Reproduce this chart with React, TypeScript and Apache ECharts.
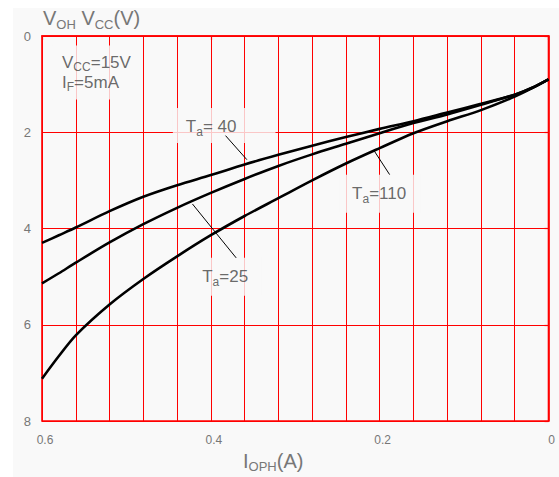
import React, { useEffect, useRef } from 'react';
import * as echarts from 'echarts';

// Output current I_OPH (A)
const current = [0.6, 0.58, 0.56, 0.52, 0.48, 0.44, 0.4, 0.36, 0.32, 0.28, 0.24, 0.2, 0.16, 0.12, 0.08, 0.04, 0.02, 0];
// V_OH - V_CC (V) per ambient temperature
const vohTa40 = [4.30, 4.14, 3.98, 3.64, 3.34, 3.10, 2.89, 2.67, 2.47, 2.28, 2.10, 1.93, 1.77, 1.59, 1.41, 1.22, 1.08, 0.90];
const vohTa25 = [5.14, 4.93, 4.71, 4.29, 3.91, 3.57, 3.26, 2.97, 2.70, 2.46, 2.24, 2.02, 1.81, 1.63, 1.43, 1.22, 1.08, 0.90];
const vohTa110 = [7.12, 6.65, 6.22, 5.58, 5.05, 4.58, 4.14, 3.74, 3.37, 3.00, 2.65, 2.33, 2.02, 1.77, 1.54, 1.26, 1.09, 0.90];

// Annotations
const tempLabels = ['T{a|a}= 40', 'T{a|a}=25', 'T{a|a}=110'];
const tempLabelAnchors = [[0.3842, 1.858], [0.383, 5.0], [0.2, 3.28]];
const tempLabelPads = [[8, 39, 5, 13], [8, 13, 8, 13], [8, 14, 8, 13]];
const leaders = [
  [[0.3826, 2.07], [0.3573, 2.57]],
  [[0.4218, 3.49], [0.37, 4.61]],
  [[0.2071, 2.37], [0.1882, 2.88]],
];
const conditionText = 'V{s|CC}=15V\nI{s|F}=5mA';
const conditionAnchor = [0.5881, 0.758];

const FONT = "'Liberation Sans', Arial, sans-serif";
const RED = '#ff0000';
const BG = '#f9f9f9';

export default function App() {
  const ref = useRef<HTMLDivElement>(null);
  useEffect(() => {
    if (!ref.current) return;
    const chart = echarts.init(ref.current, undefined, { renderer: 'svg' });
    const curve = (name: string, vals: number[]) => ({
      name,
      type: 'line',
      data: current.map((c, i) => [c, vals[i]]),
      symbol: 'none',
      smooth: 0.3,
      lineStyle: { color: '#000', width: 2.6 },
      z: 3,
      silent: true,
    });
    chart.setOption({
      animation: false,
      backgroundColor: BG,
      grid: {
        left: 29, right: 10.5, top: 28, bottom: 56,
        show: true, borderColor: RED, borderWidth: 1.6, backgroundColor: 'transparent',
      },
      xAxis: {
        type: 'value', inverse: true, min: 0, max: 0.6, interval: 0.2,
        axisLine: { show: true, lineStyle: { color: RED, width: 1.6 } },
        axisTick: { show: true, length: 4, lineStyle: { color: RED, width: 1.2 } },
        axisLabel: {
          color: '#777', fontFamily: FONT, fontSize: 12, margin: 13, padding: [0, 0, 0, 6],
          formatter: (v: number) => (Math.abs(v) < 1e-9 ? '0' : v.toFixed(1)),
        },
        splitLine: { show: true, lineStyle: { color: RED, width: 1 } },
        minorTick: { show: false, splitNumber: 5 },
        minorSplitLine: { show: true, lineStyle: { color: RED, width: 1 } },
      },
      yAxis: {
        type: 'value', inverse: true, min: 0, max: 8, interval: 2,
        axisLine: { show: true, lineStyle: { color: RED, width: 1.6 } },
        axisTick: { show: true, length: 4, lineStyle: { color: RED, width: 1.2 } },
        axisLabel: { color: '#777', fontFamily: FONT, fontSize: 13, margin: 11 },
        splitLine: { show: true, lineStyle: { color: RED, width: 1 } },
      },
      graphic: [
        {
          type: 'text', x: 30, y: 10, silent: true,
          style: {
            text: '{v|V}{s|OH}{v| V}{s|CC}{v|(V)}',
            align: 'left', verticalAlign: 'middle',
            fill: '#777', font: `20px ${FONT}`,
            rich: {
              v: { fontSize: 20, lineHeight: 26, fontFamily: FONT, fill: '#777' },
              s: { fontSize: 13, lineHeight: 13, padding: [13, 0, 0, 0], fontFamily: FONT, fill: '#777' },
            },
          },
        },
        {
          type: 'text', x: 230, y: 453, silent: true,
          style: {
            text: '{v|I}{s|OPH}{v|(A)}',
            align: 'left', verticalAlign: 'middle',
            fill: '#777', font: `20px ${FONT}`,
            rich: {
              v: { fontSize: 20, lineHeight: 26, fontFamily: FONT, fill: '#777' },
              s: { fontSize: 13, lineHeight: 13, padding: [11, 0, 0, 0], fontFamily: FONT, fill: '#777' },
            },
          },
        },
      ],
      series: [
        curve('Ta=40', vohTa40),
        curve('Ta=25', vohTa25),
        curve('Ta=110', vohTa110),
        {
          type: 'scatter',
          symbolSize: 1,
          itemStyle: { color: 'transparent' },
          silent: true,
          z: 5,
          data: tempLabelAnchors.map((p, i) => ({
            value: p,
            label: { formatter: tempLabels[i], padding: tempLabelPads[i] },
          })),
          label: {
            show: true, position: 'inside',
            color: '#444', fontFamily: FONT, fontSize: 17, lineHeight: 22,
            backgroundColor: BG,
            rich: {
              a: { fontSize: 12, lineHeight: 12, padding: [10, 0, 0, 0], color: '#444', fontFamily: FONT },
            },
          },
        },
        {
          type: 'scatter',
          symbolSize: 1,
          itemStyle: { color: 'transparent' },
          silent: true,
          z: 5,
          data: [{ value: conditionAnchor }],
          label: {
            show: true, position: 'inside', align: 'left', verticalAlign: 'middle',
            formatter: conditionText,
            color: '#444', fontFamily: FONT, fontSize: 17, lineHeight: 20,
            backgroundColor: BG, padding: [7, 10, 7, 10],
            rich: {
              s: { fontSize: 12, lineHeight: 11, padding: [9, 0, 0, 0], color: '#444', fontFamily: FONT },
            },
          },
        },
        {
          type: 'lines',
          coordinateSystem: 'cartesian2d',
          silent: true,
          z: 10,
          data: leaders.map((c) => ({ coords: c })),
          lineStyle: { color: '#000', width: 1, opacity: 1 },
        },
      ],
    });
    return () => chart.dispose();
  }, []);
  return (
    <div
      ref={ref}
      style={{ position: 'absolute', left: 13, top: 8, width: 546, height: 469, background: BG }}
    />
  );
}
